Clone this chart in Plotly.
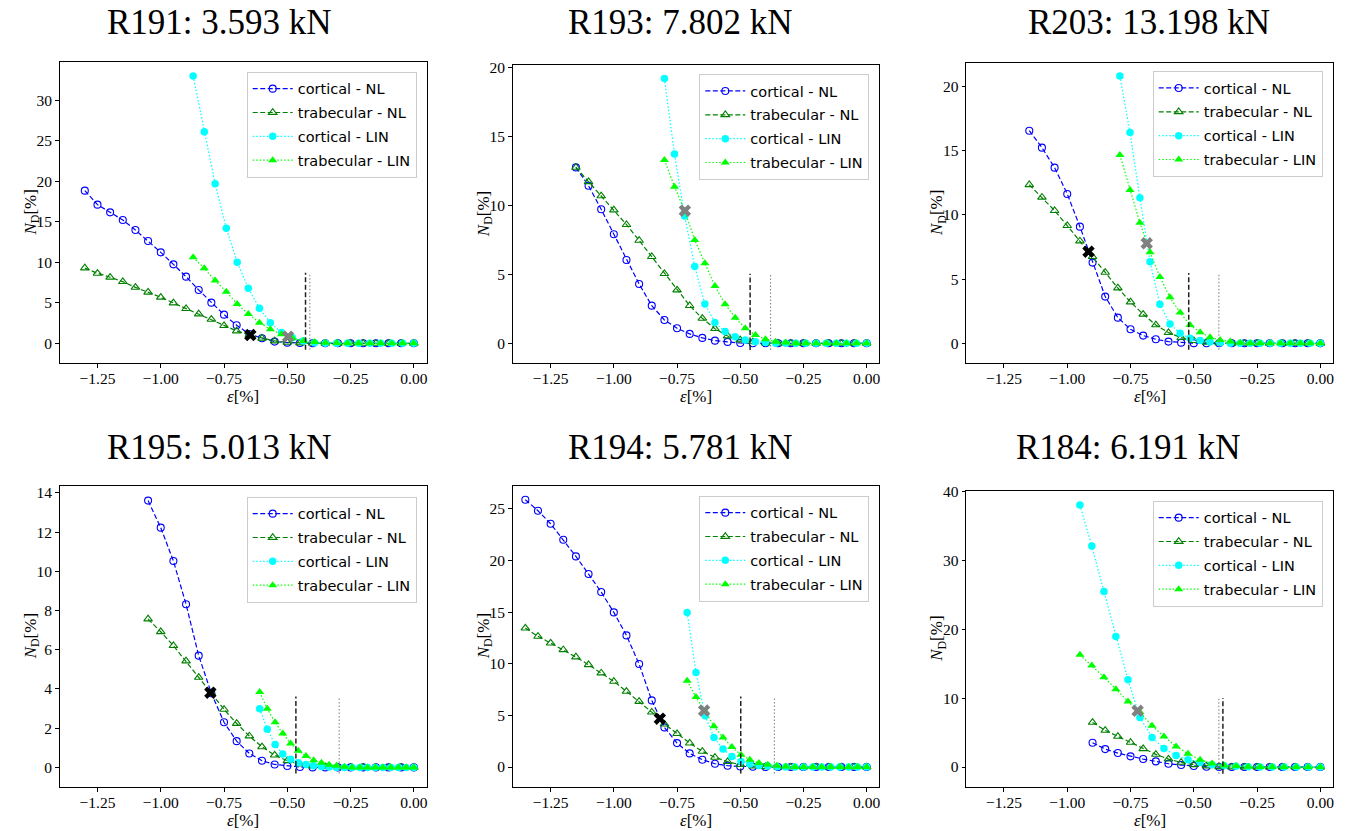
import plotly.graph_objects as go

W, H = 1346, 831

# ---------------- data ----------------
titles = ["R191: 3.593 kN", "R193: 7.802 kN", "R203: 13.198 kN",
          "R195: 5.013 kN", "R194: 5.781 kN", "R184: 6.191 kN"]
series_names = ["cortical - NL", "trabecular - NL", "cortical - LIN", "trabecular - LIN"]
x_ticks = [-1.25, -1.00, -0.75, -0.50, -0.25, 0.00]

# R191
r191_eps_nl = [-1.30, -1.25, -1.20, -1.15, -1.10, -1.05, -1.00, -0.95, -0.90, -0.85, -0.80, -0.75, -0.70, -0.65,
               -0.60, -0.55, -0.50, -0.45, -0.40, -0.35, -0.30, -0.25, -0.20, -0.15, -0.10, -0.05, 0.00]
r191_cort_nl = [18.85, 17.12, 16.17, 15.23, 13.99, 12.63, 11.23, 9.75, 8.23, 6.58, 5.02, 3.54, 2.22, 1.15,
                0.62, 0.21, 0.08, 0.03, 0, 0, 0, 0, 0, 0, 0, 0, 0]
r191_trab_nl = [9.30, 8.64, 8.15, 7.61, 6.91, 6.30, 5.68, 4.98, 4.28, 3.62, 2.96, 2.18, 1.52, 1.03,
                0.62, 0.29, 0.12, 0.04, 0, 0, 0, 0, 0, 0, 0, 0, 0]
r191_eps_lin = [-0.872, -0.828, -0.785, -0.741, -0.698, -0.654, -0.610, -0.567, -0.523, -0.480, -0.436,
                -0.392, -0.349, -0.305, -0.262, -0.218, -0.174, -0.131, -0.087, -0.044, 0.0]
r191_cort_lin = [33.0, 26.13, 19.71, 14.2, 10.0, 6.79, 4.32, 2.55, 1.32, 0.70, 0.29, 0.08, 0.02,
                 0, 0, 0, 0, 0, 0, 0, 0]
r191_trab_lin = [10.62, 9.26, 7.74, 6.38, 4.86, 3.62, 2.55, 1.73, 1.11, 0.62, 0.29, 0.16, 0.08, 0.04,
                 0, 0, 0, 0, 0, 0, 0]
r191_x_black = [-0.646]; r191_y_black = [1.02]
r191_x_gray = [-0.497]; r191_y_gray = [0.82]
r191_vdash = -0.428; r191_vdot = -0.411

# R193
r193_eps_nl = [-1.15, -1.10, -1.05, -1.00, -0.95, -0.90, -0.85, -0.80, -0.75, -0.70, -0.65, -0.60,
               -0.55, -0.50, -0.45, -0.40, -0.35, -0.30, -0.25, -0.20, -0.15, -0.10, -0.05, 0.00]
r193_cort_nl = [12.75, 11.42, 9.71, 7.90, 6.04, 4.30, 2.73, 1.69, 1.09, 0.68, 0.39, 0.19, 0.10, 0.02,
                0, 0, 0, 0, 0, 0, 0, 0, 0, 0]
r193_trab_nl = [12.75, 11.71, 10.68, 9.66, 8.60, 7.46, 6.28, 5.05, 3.86, 2.73, 1.81, 1.06, 0.53, 0.24,
                0.10, 0.02, 0, 0, 0, 0, 0, 0, 0, 0]
r193_eps_lin = [-0.80, -0.76, -0.72, -0.68, -0.64, -0.60, -0.56, -0.52, -0.48, -0.44, -0.40,
                -0.36, -0.32, -0.28, -0.24, -0.20, -0.16, -0.12, -0.08, -0.04, 0.0]
r193_cort_lin = [19.2, 13.72, 9.23, 5.56, 2.85, 1.50, 0.85, 0.48, 0.24, 0.12, 0.05,
                 0, 0, 0, 0, 0, 0, 0, 0, 0, 0]
r193_trab_lin = [13.29, 11.35, 9.6, 7.49, 5.80, 4.15, 2.83, 1.86, 1.09, 0.60, 0.29, 0.12, 0.05,
                 0, 0, 0, 0, 0, 0, 0, 0]
r193_x_black = []; r193_y_black = []
r193_x_gray = [-0.719]; r193_y_gray = [9.61]
r193_vdash = -0.461; r193_vdot = -0.380

# R203
r203_eps_nl = [-1.15, -1.10, -1.05, -1.00, -0.95, -0.90, -0.85, -0.80, -0.75, -0.70, -0.65, -0.60,
               -0.55, -0.50, -0.45, -0.40, -0.35, -0.30, -0.25, -0.20, -0.15, -0.10, -0.05, 0.00]
r203_cort_nl = [16.57, 15.25, 13.69, 11.64, 9.09, 6.29, 3.64, 2.0, 1.09, 0.60, 0.31, 0.13, 0.05, 0.01,
                0, 0, 0, 0, 0, 0, 0, 0, 0, 0]
r203_trab_nl = [12.36, 11.38, 10.34, 9.17, 7.97, 6.75, 5.53, 4.31, 3.22, 2.26, 1.43, 0.83, 0.44, 0.21,
                0.08, 0.03, 0, 0, 0, 0, 0, 0, 0, 0]
r203_eps_lin = [-0.792, -0.752, -0.713, -0.673, -0.634, -0.594, -0.554, -0.515, -0.475, -0.436, -0.396,
                -0.356, -0.317, -0.277, -0.238, -0.198, -0.158, -0.119, -0.079, -0.040, 0.0]
r203_cort_lin = [20.83, 16.42, 11.35, 6.36, 3.04, 1.51, 0.78, 0.39, 0.21, 0.10, 0.05,
                 0, 0, 0, 0, 0, 0, 0, 0, 0, 0]
r203_trab_lin = [14.68, 11.95, 9.40, 7.09, 5.17, 3.58, 2.39, 1.43, 0.86, 0.47, 0.26, 0.13, 0.05,
                 0, 0, 0, 0, 0, 0, 0, 0]
r203_x_black = [-0.916]; r203_y_black = [7.14]
r203_x_gray = [-0.686]; r203_y_gray = [7.79]
r203_vdash = -0.520; r203_vdot = -0.401

# R195
r195_eps_nl = [-1.05, -1.00, -0.95, -0.90, -0.85, -0.80, -0.75, -0.70, -0.65, -0.60, -0.55,
               -0.50, -0.45, -0.40, -0.35, -0.30, -0.25, -0.20, -0.15, -0.10, -0.05, 0.00]
r195_cort_nl = [13.61, 12.23, 10.53, 8.32, 5.70, 3.78, 2.30, 1.34, 0.71, 0.34, 0.15, 0.07, 0.02,
                0, 0, 0, 0, 0, 0, 0, 0, 0]
r195_trab_nl = [7.57, 6.92, 6.21, 5.43, 4.59, 3.78, 2.96, 2.24, 1.60, 1.05, 0.63, 0.34, 0.17, 0.07, 0.03,
                0, 0, 0, 0, 0, 0, 0]
r195_eps_lin = [-0.609, -0.579, -0.548, -0.518, -0.487, -0.457, -0.426, -0.396, -0.365, -0.335, -0.305,
                -0.274, -0.244, -0.213, -0.183, -0.152, -0.122, -0.091, -0.061, -0.030, 0.0]
r195_cort_lin = [2.99, 1.94, 1.17, 0.68, 0.41, 0.24, 0.15, 0.09, 0.05, 0.02,
                 0, 0, 0, 0, 0, 0, 0, 0, 0, 0, 0]
r195_trab_lin = [3.84, 2.99, 2.30, 1.73, 1.22, 0.85, 0.58, 0.37, 0.24, 0.14, 0.09, 0.03,
                 0, 0, 0, 0, 0, 0, 0, 0, 0]
r195_x_black = [-0.804]; r195_y_black = [3.81]
r195_x_gray = []; r195_y_gray = []
r195_vdash = -0.466; r195_vdot = -0.295

# R194
r194_eps_nl = [-1.35, -1.30, -1.25, -1.20, -1.15, -1.10, -1.05, -1.00, -0.95, -0.90, -0.85, -0.80, -0.75, -0.70,
               -0.65, -0.60, -0.55, -0.50, -0.45, -0.40, -0.35, -0.30, -0.25, -0.20, -0.15, -0.10, -0.05, 0.00]
r194_cort_nl = [25.87, 24.81, 23.55, 22.0, 20.39, 18.68, 16.94, 14.97, 12.74, 9.97, 6.45, 3.84, 2.32, 1.32,
                0.71, 0.32, 0.13, 0.06, 0.03, 0, 0, 0, 0, 0, 0, 0, 0, 0]
r194_trab_nl = [13.45, 12.65, 12.0, 11.35, 10.65, 9.90, 9.10, 8.29, 7.32, 6.35, 5.32, 4.16, 3.23, 2.32,
                1.52, 0.94, 0.52, 0.23, 0.10, 0.03, 0, 0, 0, 0, 0, 0, 0, 0]
r194_eps_lin = [-0.710, -0.675, -0.639, -0.604, -0.568, -0.533, -0.497, -0.462, -0.426, -0.391, -0.355,
                -0.320, -0.284, -0.249, -0.213, -0.178, -0.142, -0.107, -0.071, -0.036, 0.0]
r194_cort_lin = [14.97, 9.16, 4.97, 2.87, 1.74, 1.03, 0.55, 0.29, 0.16, 0.10, 0.03,
                 0, 0, 0, 0, 0, 0, 0, 0, 0, 0]
r194_trab_lin = [8.35, 6.77, 5.4, 3.94, 2.87, 1.94, 1.19, 0.71, 0.39, 0.23, 0.13, 0.06,
                 0, 0, 0, 0, 0, 0, 0, 0, 0]
r194_x_black = [-0.818]; r194_y_black = [4.68]
r194_x_gray = [-0.643]; r194_y_gray = [5.47]
r194_vdash = -0.498; r194_vdot = -0.365

# R184
r184_eps_nl = [-0.90, -0.85, -0.80, -0.75, -0.70, -0.65, -0.60, -0.55, -0.50, -0.45, -0.40,
               -0.35, -0.30, -0.25, -0.20, -0.15, -0.10, -0.05, 0.00]
r184_cort_nl = [3.53, 2.61, 2.03, 1.55, 1.16, 0.82, 0.48, 0.29, 0.15, 0.05,
                0, 0, 0, 0, 0, 0, 0, 0, 0]
r184_trab_nl = [6.48, 5.32, 4.45, 3.58, 2.66, 1.84, 1.16, 0.68, 0.34, 0.15, 0.05,
                0, 0, 0, 0, 0, 0, 0, 0]
r184_eps_lin = [-0.950, -0.903, -0.855, -0.808, -0.760, -0.713, -0.665, -0.618, -0.570, -0.523, -0.475,
                -0.428, -0.380, -0.333, -0.285, -0.238, -0.190, -0.143, -0.095, -0.048, 0.0]
r184_cort_lin = [38.07, 32.12, 25.5, 18.96, 12.68, 7.21, 4.31, 2.71, 1.69, 1.06, 0.68, 0.34, 0.19, 0.10, 0.05,
                 0, 0, 0, 0, 0, 0]
r184_trab_lin = [16.3, 14.76, 13.06, 11.32, 9.53, 7.98, 6.0, 4.45, 3.0, 1.94, 1.06, 0.53, 0.24, 0.15, 0.05,
                 0, 0, 0, 0, 0, 0]
r184_x_black = []; r184_y_black = []
r184_x_gray = [-0.722]; r184_y_gray = [8.17]
r184_vdash = -0.385; r184_vdot = -0.401

panels = [
    (r191_eps_nl, r191_cort_nl, r191_trab_nl, r191_eps_lin, r191_cort_lin, r191_trab_lin,
     r191_x_black, r191_y_black, r191_x_gray, r191_y_gray, r191_vdash, r191_vdot),
    (r193_eps_nl, r193_cort_nl, r193_trab_nl, r193_eps_lin, r193_cort_lin, r193_trab_lin,
     r193_x_black, r193_y_black, r193_x_gray, r193_y_gray, r193_vdash, r193_vdot),
    (r203_eps_nl, r203_cort_nl, r203_trab_nl, r203_eps_lin, r203_cort_lin, r203_trab_lin,
     r203_x_black, r203_y_black, r203_x_gray, r203_y_gray, r203_vdash, r203_vdot),
    (r195_eps_nl, r195_cort_nl, r195_trab_nl, r195_eps_lin, r195_cort_lin, r195_trab_lin,
     r195_x_black, r195_y_black, r195_x_gray, r195_y_gray, r195_vdash, r195_vdot),
    (r194_eps_nl, r194_cort_nl, r194_trab_nl, r194_eps_lin, r194_cort_lin, r194_trab_lin,
     r194_x_black, r194_y_black, r194_x_gray, r194_y_gray, r194_vdash, r194_vdot),
    (r184_eps_nl, r184_cort_nl, r184_trab_nl, r184_eps_lin, r184_cort_lin, r184_trab_lin,
     r184_x_black, r184_y_black, r184_x_gray, r184_y_gray, r184_vdash, r184_vdot),
]

# ---------------- layout geometry (pixels) ----------------
x_doms_px = [(59.5, 426.5), (512.7, 879.3), (966.0, 1333.0), (59.5, 426.5), (512.7, 879.3), (966.0, 1333.0)]
y_doms_px = [(61.7, 363.3), (65.0, 363.3), (62.7, 363.3), (485.7, 787.0), (485.7, 787.0), (490.7, 787.0)]
y_ranges = [(-2.47, 34.77), (-1.45, 20.17), (-1.56, 21.87), (-1.0, 14.37), (-1.93, 27.23), (-2.9, 40.15)]
y_dticks = [5, 5, 5, 2, 5, 10]
title_cx = [219, 680, 1149, 219, 680, 1128]
title_cy = [23, 23, 23, 448, 448, 448]
legend_px = [(416.7, 71.7), (869.3, 74.0), (1322.7, 71.0), (416.7, 496.7), (869.3, 495.7), (1322.7, 500.7)]
ylab_x = [32, 485, 938, 32, 485, 938]


def px(x):
    return x / W


def py(y):
    return 1 - y / H


SERIF = "Liberation Serif"
SANS = "DejaVu Sans"
BLUE, GREEN, CYAN, LIME = "#0000ff", "#008000", "#00ffff", "#00ff00"

fig = go.Figure()
layout = dict(width=W, height=H, margin=dict(l=0, r=0, t=0, b=0, autoexpand=False),
              paper_bgcolor="white", plot_bgcolor="white", showlegend=True)
annotations = []
shapes = []

for i, p in enumerate(panels):
    (e_nl, c_nl, t_nl, e_lin, c_lin, t_lin, xb, yb, xg, yg, vdash, vdot) = p
    k = "" if i == 0 else str(i + 1)
    xa, ya = "x" + k, "y" + k
    leg = "legend" + k

    common = dict(xaxis=xa, yaxis=ya, legend=leg, mode="lines+markers", hoverinfo="skip")
    fig.add_trace(go.Scatter(x=e_nl, y=c_nl, name=series_names[0], legendgroup=f"g{i}a",
                             line=dict(color=BLUE, width=1.2, dash="5px,2.5px"),
                             marker=dict(symbol="circle-open", size=7, color=BLUE, line=dict(width=1.1)),
                             **common))
    fig.add_trace(go.Scatter(x=e_nl, y=t_nl, name=series_names[1], legendgroup=f"g{i}b",
                             line=dict(color=GREEN, width=1.2, dash="5px,2.5px"),
                             marker=dict(symbol="triangle-up-open", size=7.5, color=GREEN, line=dict(width=1.1)),
                             **common))
    fig.add_trace(go.Scatter(x=e_lin, y=c_lin, name=series_names[2], legendgroup=f"g{i}c",
                             line=dict(color=CYAN, width=1.2, dash="1.5px,2px"),
                             marker=dict(symbol="circle", size=7.5, color=CYAN),
                             **common))
    fig.add_trace(go.Scatter(x=e_lin, y=t_lin, name=series_names[3], legendgroup=f"g{i}d",
                             line=dict(color=LIME, width=1.2, dash="1.5px,2px"),
                             marker=dict(symbol="triangle-up", size=8, color=LIME),
                             **common))
    if xb:
        fig.add_trace(go.Scatter(x=xb, y=yb, mode="markers", xaxis=xa, yaxis=ya, showlegend=False,
                                 hoverinfo="skip", marker=dict(symbol="x", size=11, color="black")))
    if xg:
        fig.add_trace(go.Scatter(x=xg, y=yg, mode="markers", xaxis=xa, yaxis=ya, showlegend=False,
                                 hoverinfo="skip", marker=dict(symbol="x", size=11, color="#808080")))

    x0, x1 = x_doms_px[i]
    ytop, ybot = y_doms_px[i]
    axis_common = dict(showline=True, linecolor="black", linewidth=1, mirror=True,
                       ticks="outside", ticklen=3.5, tickwidth=0.8, tickcolor="black",
                       showgrid=False, zeroline=False,
                       tickfont=dict(family=SERIF, size=15.5, color="black"))
    layout["xaxis" + k] = dict(domain=[px(x0), px(x1)], anchor=ya, range=[-1.4, 0.05],
                               tickvals=x_ticks, tickformat=".2f", ticklabelstandoff=-2, **axis_common)
    layout["yaxis" + k] = dict(domain=[py(ybot), py(ytop)], anchor=xa, range=list(y_ranges[i]),
                               dtick=y_dticks[i], tick0=0, **axis_common)

    lx, ly = legend_px[i]
    layout[leg] = dict(x=px(lx), y=py(ly), xanchor="right", yanchor="top",
                       bgcolor="rgba(255,255,255,0.8)", bordercolor="#cccccc", borderwidth=1,
                       font=dict(family=SANS, size=14.5, color="black"), itemwidth=40,
                       tracegroupgap=2)

    # vertical reference lines
    shapes.append(dict(type="line", xref=xa, yref=ya + " domain", x0=vdash, x1=vdash, y0=0.045, y1=0.3,
                       line=dict(color="#222222", width=1.5, dash="5px,2.5px"), layer="above"))
    shapes.append(dict(type="line", xref=xa, yref=ya + " domain", x0=vdot, x1=vdot, y0=0.045, y1=0.3,
                       line=dict(color="#888888", width=1.1, dash="1.5px,2px"), layer="above"))

    # titles and axis labels
    annotations.append(dict(text=titles[i], x=px(title_cx[i]), y=py(title_cy[i]), xref="paper", yref="paper",
                            showarrow=False, xanchor="center", yanchor="middle",
                            font=dict(family=SERIF, size=35, color="black")))
    annotations.append(dict(text="<i>N</i><sub>D</sub>[%]", x=px(ylab_x[i]), y=py((ytop + ybot) / 2),
                            xref="paper", yref="paper", showarrow=False, textangle=-90,
                            xanchor="center", yanchor="middle",
                            font=dict(family=SERIF, size=17, color="black")))
    annotations.append(dict(text="<i>ε</i>[%]", x=px((x0 + x1) / 2), y=py(ybot + 33),
                            xref="paper", yref="paper", showarrow=False,
                            xanchor="center", yanchor="middle",
                            font=dict(family=SERIF, size=17, color="black")))

layout["annotations"] = annotations
layout["shapes"] = shapes
fig.update_layout(**layout)
fig.write_html("out.html", config={"displayModeBar": False},
               post_script="document.body.style.margin='0';document.body.style.padding='0';")
